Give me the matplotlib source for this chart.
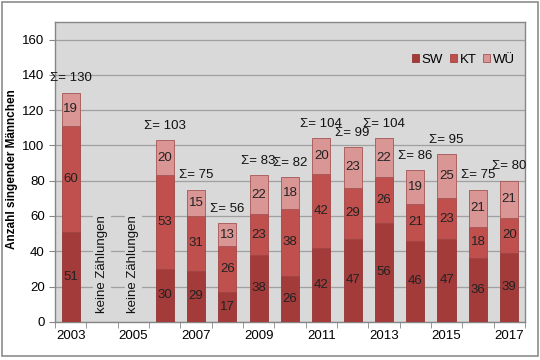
import matplotlib
matplotlib.use("Agg")
import matplotlib.pyplot as plt
import numpy as np
from matplotlib.patches import Rectangle

plt.rcParams['font.family'] = ['Liberation Sans', 'DejaVu Sans']

years = list(range(2003, 2018))
sw = [51, None, None, 30, 29, 17, 38, 26, 42, 47, 56, 46, 47, 36, 39]
kt = [60, None, None, 53, 31, 26, 23, 38, 42, 29, 26, 21, 23, 18, 20]
wu = [19, None, None, 20, 15, 13, 22, 18, 20, 23, 22, 19, 25, 21, 21]
series_names = ['SW', 'KT', 'WÜ']
colors = ['#a33b3b', '#c0504d', '#d99694']
no_count_text = 'keine Zählungen'
ylabel = 'Anzahl singender Männchen'

fig = plt.figure(figsize=(5.4, 3.6), dpi=100)
fig.patch.set_facecolor('white')
fig.add_artist(Rectangle((0.003, 0.012), 0.994, 0.982, transform=fig.transFigure,
                         fill=False, edgecolor='#8c8c8c', linewidth=1.2))
ax = fig.add_axes([0.102, 0.106, 0.870, 0.833])
ax.set_facecolor('#d9d9d9')

x = np.arange(len(years))
valid = [i for i in range(len(years)) if sw[i] is not None]
xs = np.array(valid)
a = np.array([sw[i] for i in valid], float)
b = np.array([kt[i] for i in valid], float)
c = np.array([wu[i] for i in valid], float)
w = 0.58
ax.bar(xs, a, w, color=colors[0], edgecolor='#933535', linewidth=0.6, label=series_names[0], zorder=3)
ax.bar(xs, b, w, bottom=a, color=colors[1], edgecolor='#a04444', linewidth=0.6, label=series_names[1], zorder=3)
ax.bar(xs, c, w, bottom=a + b, color=colors[2], edgecolor='#a55555', linewidth=0.6, label=series_names[2], zorder=3)

for xi, v1, v2, v3 in zip(xs, a, b, c):
    for bot, v in ((0, v1), (v1, v2), (v1 + v2, v3)):
        ax.text(xi, bot + v / 2, f'{int(v)}', ha='center', va='center', fontsize=9.5,
                color='#222222', zorder=4)
    tot = v1 + v2 + v3
    ax.annotate(f'Σ= {int(tot)}', (xi, tot), xytext=(0, 6), textcoords='offset points',
                ha='center', va='bottom', fontsize=9.5, color='#111111', zorder=4)

for i in range(len(years)):
    if sw[i] is None:
        ax.text(i, 5, no_count_text, rotation=90, ha='center', va='bottom', fontsize=9.5,
                color='#111111', zorder=4,
                bbox=dict(facecolor='#d9d9d9', edgecolor='none', pad=2))

ax.set_xlim(-0.5, len(years) - 0.5)
ax.set_ylim(0, 170)
ax.set_yticks(range(0, 161, 20))
ax.set_xticks(x[::2])
ax.set_xticklabels([str(y) for y in years[::2]])
ax.set_xticks(np.arange(-0.5, len(years), 1), minor=True)
ax.tick_params(axis='x', which='major', length=0, labelsize=9.5, pad=6)
ax.tick_params(axis='x', which='minor', length=4, color='#868686', direction='out')
ax.tick_params(axis='y', length=4, color='#868686', labelsize=9.5)
ax.grid(axis='y', color='#a0a0a0', linewidth=0.9, zorder=0)
ax.set_axisbelow(True)
for s in ax.spines.values():
    s.set_color('#868686')
    s.set_linewidth(1.0)

ax.set_ylabel(ylabel, fontsize=8.5, fontweight='bold')
ax.yaxis.set_label_coords(-0.079, 0.51)

ax.legend(ncol=3, loc='center right', bbox_to_anchor=(0.99, 0.873), frameon=False,
          fontsize=9.5, handlelength=0.55, handleheight=0.55, handletextpad=0.2,
          columnspacing=0.5, borderaxespad=0)

fig.savefig('out.png', dpi=100)
